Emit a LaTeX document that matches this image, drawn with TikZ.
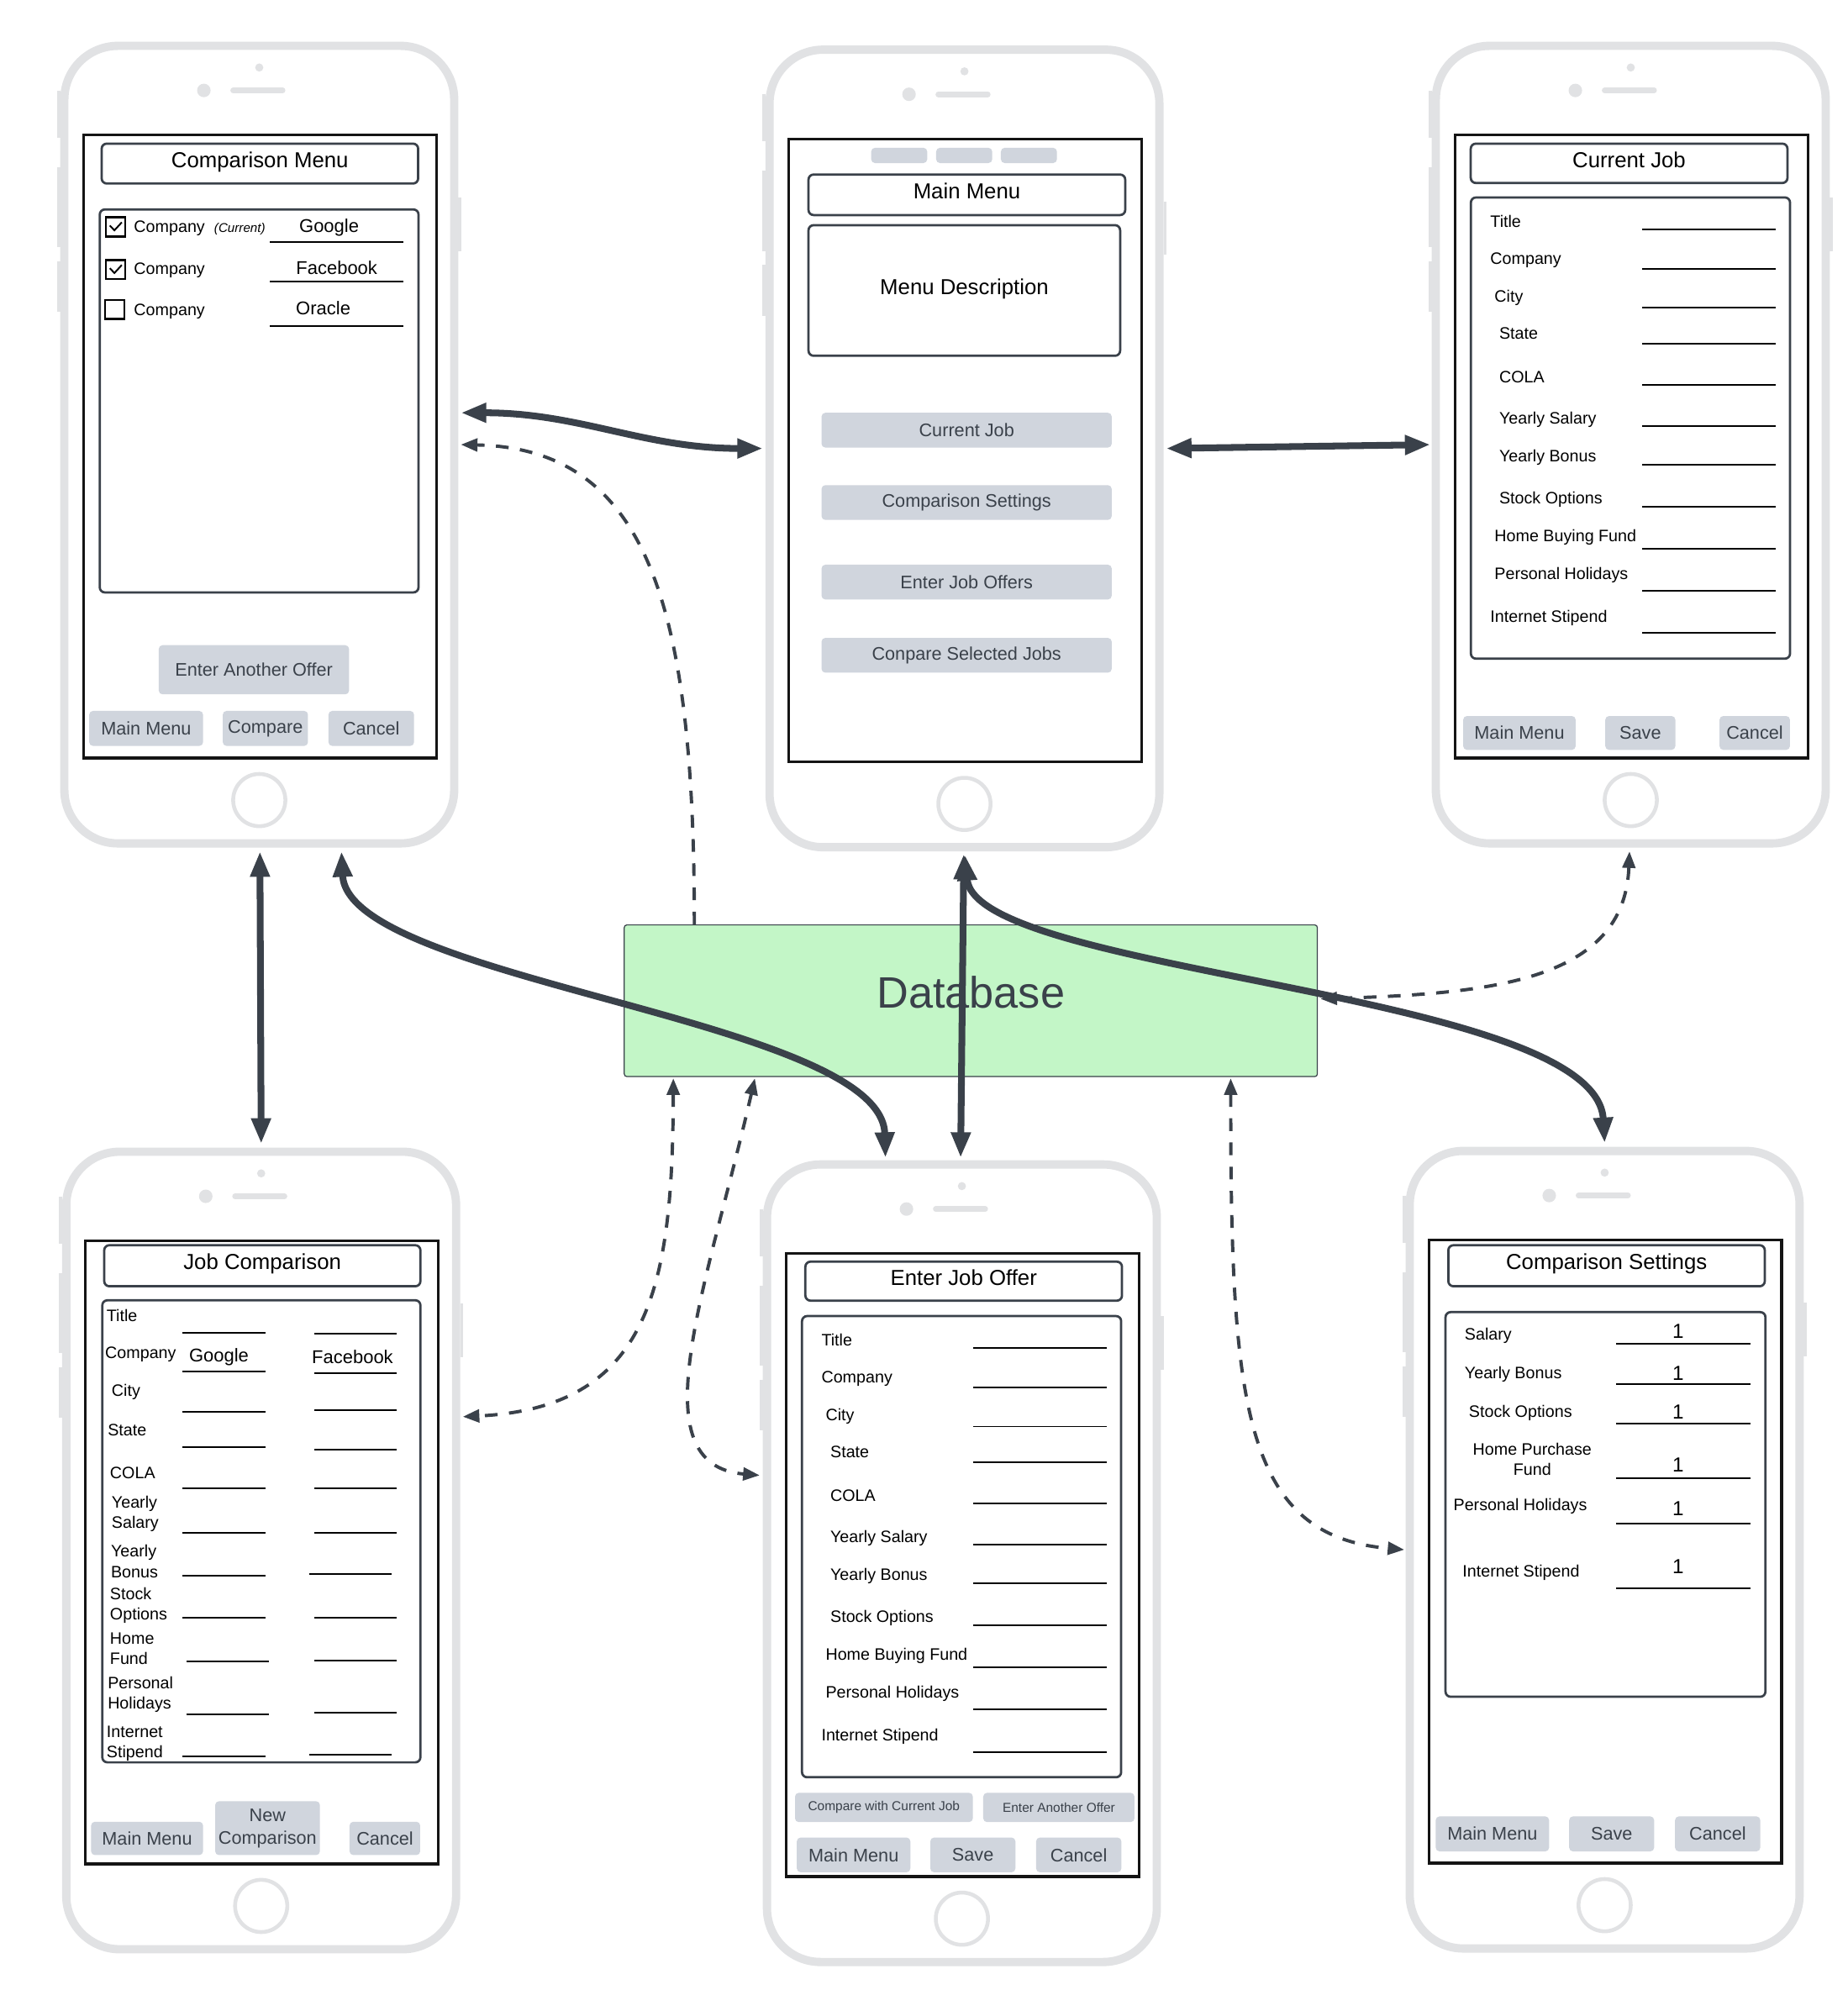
\documentclass[tikz,border=0pt]{standalone}
\usepackage{fontspec}
\setmainfont{Liberation Sans}
\usetikzlibrary{arrows.meta,calc}
\definecolor{framegray}{HTML}{E1E2E4}
\definecolor{btngray}{HTML}{D0D5DD}
\definecolor{slate}{HTML}{3A414A}
\definecolor{dbgreen}{HTML}{C3F6C7}
\tikzstyle{phone} = [rectangle, draw=framegray, line width=6.5pt, rounded corners=42pt, fill=white, minimum width=306pt, minimum height=626pt]
\tikzstyle{screen} = [draw=black!92, line width=2.2pt]
\tikzstyle{titlebox} = [rectangle, draw=slate, line width=1.8pt, rounded corners=4pt, inner sep=0pt, text height=12.2pt, text depth=6pt, font=\fontsize{17}{20}\selectfont]
\tikzstyle{panel} = [draw=slate, line width=1.8pt, rounded corners=4pt]
\tikzstyle{btn} = [rectangle, fill=btngray, rounded corners=3pt, inner sep=0pt, text=slate, align=center, font=\fontsize{14.3}{17.7}\selectfont]
\tikzstyle{smallbtn} = [btn, font=\fontsize{10.2}{12}\selectfont]
\tikzstyle{lbl} = [anchor=west, inner sep=0pt, align=left, font=\fontsize{13}{16}\selectfont]
\tikzstyle{val} = [inner sep=0pt, font=\fontsize{14.5}{17}\selectfont]
\tikzstyle{field} = [draw=black, line width=1.3pt]
\tikzstyle{chk} = [rectangle, draw=black, line width=1.7pt, minimum size=15pt, inner sep=0pt]
\tikzstyle{dbbox} = [rectangle, draw=slate, line width=0.8pt, fill=dbgreen, rounded corners=2pt, minimum width=544pt, minimum height=119pt, text=slate, text height=25.2pt, text depth=14pt, font=\fontsize{34.5}{40}\selectfont]
\tikzstyle{link} = [draw=slate, line width=5.3pt, >={Triangle[length=20pt,width=14.5pt]}, <->]
\tikzstyle{dlink} = [draw=slate, line width=2.6pt, dash pattern=on 10pt off 9pt, >={Triangle[length=13pt,width=10pt]}, <->]

% phone body: name, centre x, centre y
\newcommand{\phoneshell}[3]{%
  \begin{scope}[shift={(#2,#3)}]
    \foreach \a/\b in {-278/-241,-218/-155,-144/-104}
      \draw[framegray, line width=2.5pt] (-157.5,\a) -- (-157.5,\b);
    \draw[framegray, line width=2.5pt] (157.5,-194) -- (157.5,-152);
  \end{scope}
  \node[phone] (#1) at (#2,#3) {};
  \begin{scope}[shift={(#2,#3)}]
    \fill[framegray] (0,-296) circle (3.2pt);
    \fill[framegray] (-43.5,-278) circle (5.3pt);
    \draw[framegray, line width=4.4pt, line cap=round] (-20.5,-278) -- (18.3,-278);
    \draw[framegray, line width=3pt] (0,279) circle (20.5pt);
    \draw[screen] (-138,-243) rectangle (139,246);
  \end{scope}}

% job form rows: prefix, centre x, centre y
\newcommand{\jobform}[3]{%
  \begin{scope}[shift={(#2,#3)}]
    \draw[panel] (-125.5,-194) rectangle (125,168);
    \foreach \txt/\lx/\ly/\fy [count=\i] in {Title/-110.4/-175.5/-168.7, Company/-110.4/-145/-138, City/-107.1/-115/-107.3, State/-103.4/-87.4/-79, COLA/-103.4/-53/-47.2, Yearly Salary/-103.4/-19.4/-14.5, Yearly Bonus/-103.4/10/15.6, Stock Options/-103.4/43/48.7, Home Buying Fund/-107.1/73/81.8, Personal Holidays/-107.1/102.6/114.5, Internet Stipend/-110.4/136/148} {
      \node[lbl] (#1l\i) at (\lx,\ly) {\txt};
      \draw[field] (9,\fy) -- (114,\fy);
    }
  \end{scope}}

\begin{document}
\begin{tikzpicture}[x=1pt,y=-1pt]
\useasboundingbox (0,0) rectangle (1450,1562);

% the six screens
\phoneshell{cmpmenu}{203.5}{349}
\phoneshell{mainmenu}{757}{352}
\phoneshell{curjob}{1280}{349}
\phoneshell{jobcmp}{205}{1217}
\phoneshell{offer}{755}{1227}
\phoneshell{settings}{1259.5}{1216.4}

% comparison menu
\node[titlebox, minimum width=248.4pt, minimum height=31.3pt] (cmptitle) at (204,128.4) {Comparison Menu};
\draw[panel] (78.3,164.4) rectangle (328.5,465);
\node[chk] (box1) at (90.7,178) {};
\node[chk] (box2) at (90.7,211.5) {};
\node[chk] (box3) at (90,243) {};
\draw[line width=1.3pt] (86.2,177) -- (89.8,180.8) -- (95.6,174.5);
\draw[line width=1.3pt] (86.2,210.5) -- (89.8,214.3) -- (95.6,208);
\foreach \y [count=\i] in {179,212.5,244.5}
  \node[lbl] (cmpco\i) at (105,\y) {Company};
\node[lbl, font=\fontsize{10}{12}\selectfont\itshape] (curtag) at (168,180) {(Current)};
\foreach \v/\vx/\vy/\uy [count=\i] in {Google/258.3/178.5/190, Facebook/264.3/210/221, Oracle/253.7/242/256} {
  \node[val] (cmpv\i) at (\vx,\vy) {\v};
  \draw[field] (212,\uy) -- (316.8,\uy);
}
\node[btn, minimum width=149.4pt, minimum height=38.6pt] (anotheroffer) at (199.3,525.7) {Enter Another Offer};
\node[btn, minimum width=89.4pt, minimum height=27.5pt] (cmpmain) at (114.7,571.75) {Main Menu};
\node[btn, minimum width=66.9pt, minimum height=27.5pt] (cmpgo) at (208.3,571.75) {Compare};
\node[btn, minimum width=67.2pt, minimum height=27.5pt] (cmpcancel) at (291.4,571.75) {Cancel};

% main menu
\foreach \x [count=\i] in {705.8,756.8,807.6}
  \node[btn, minimum width=44pt, minimum height=12pt] (tab\i) at (\x,122) {};
\node[titlebox, minimum width=248.6pt, minimum height=31.8pt] (mmtitle) at (758.9,152.9) {Main Menu};
\node[titlebox, minimum width=244.6pt, minimum height=102.5pt] (mmdesc) at (756.9,228) {Menu Description};
\foreach \txt/\y [count=\i] in {Current Job/337.65, Comparison Settings/394.45, Enter Job Offers/456.9, Conpare Selected Jobs/514.35}
  \node[btn, minimum width=227.8pt, minimum height=27.3pt] (mmb\i) at (758.7,\y) {\txt};

% current job
\node[titlebox, minimum width=248.6pt, minimum height=30.9pt] (cjtitle) at (1278.7,128.2) {Current Job};
\jobform{cj}{1280}{349}
\node[btn, minimum width=88.3pt, minimum height=26.6pt] (cjmain) at (1192.6,575.3) {Main Menu};
\node[btn, minimum width=55pt, minimum height=26.6pt] (cjsave) at (1287.5,575.3) {Save};
\node[btn, minimum width=55.3pt, minimum height=26.6pt] (cjcancel) at (1377.3,575.3) {Cancel};

% job comparison
\node[titlebox, minimum width=248.2pt, minimum height=32.2pt] (jctitle) at (205.9,993.5) {Job Comparison};
\draw[panel] (80.3,1020.6) rectangle (330,1383.3);
\foreach \txt/\lx/\ly [count=\i] in {Title/83.5/1032.5, Company/82.4/1063.3, City/87.5/1092.9, State/84.4/1122.5, COLA/86.2/1156.3, Yearly\\Salary/87.5/1188.4, Yearly\\Bonus/86.9/1225.5, Stock\\Options/86.2/1260.1, Home\\Fund/86.2/1294, Personal\\Holidays/84.4/1330, Internet\\Stipend/83.5/1368.5}
  \node[lbl] (jcl\i) at (\lx,\ly) {\txt};
\foreach \ya/\xa/\xb/\yb in {1045.9/143.4/246.9/1046.9, 1076.4/143.4/246.9/1077.6, 1108.1/143.4/246.9/1106.7, 1136/143.4/246.9/1137.7, 1168.1/143.4/246.9/1168.1, 1203.2/143.4/246.9/1203.2, 1236.6/143.4/243/1235.6, 1269.6/143.4/246.9/1269.6, 1304.3/146.2/246.9/1303.2, 1345.7/146.2/246.9/1344.5, 1378.3/143.4/243/1377.3} {
  \draw[field] (\xa,\ya) -- ++(64.8,0);
  \draw[field] (\xb,\yb) -- ++(64.7,0);
}
\node[val] (jcgoogle) at (171.8,1065) {Google};
\node[val] (jcfacebook) at (276.7,1065) {Facebook};
\node[btn, minimum width=87.9pt, minimum height=26.2pt] (jcmain) at (115.45,1443) {Main Menu};
\node[btn, minimum width=82.2pt, minimum height=42.3pt] (jcnew) at (210,1434.95) {New\\Comparison};
\node[btn, minimum width=55.4pt, minimum height=26.2pt] (jccancel) at (302.1,1443) {Cancel};

% enter job offer
\node[titlebox, minimum width=248.5pt, minimum height=30.6pt] (ejtitle) at (756.4,1005.6) {Enter Job Offer};
\jobform{ej}{755}{1227}
\node[smallbtn, minimum width=139.6pt, minimum height=23pt] (ejcompare) at (693.8,1418.7) {Compare with Current Job};
\node[smallbtn, minimum width=118.7pt, minimum height=23pt] (ejanother) at (831.1,1418.7) {Enter Another Offer};
\node[btn, minimum width=89.1pt, minimum height=27.3pt] (ejmain) at (670,1455.95) {Main Menu};
\node[btn, minimum width=66.8pt, minimum height=27.3pt] (ejsave) at (763.6,1455.95) {Save};
\node[btn, minimum width=66.9pt, minimum height=27.3pt] (ejcancel) at (846.7,1455.95) {Cancel};

% comparison settings
\node[titlebox, minimum width=248.4pt, minimum height=32.2pt] (cstitle) at (1261,993.5) {Comparison Settings};
\draw[panel] (1134.6,1029.9) rectangle (1385.7,1331.8);
\foreach \txt/\lx/\ly [count=\i] in {Salary/1149.5/1048.1, Yearly Bonus/1149.5/1078.9, Stock Options/1152.8/1109.4, Personal Holidays/1140.7/1182.5, Internet Stipend/1147.8/1234.1}
  \node[lbl] (csl\i) at (\lx,\ly) {\txt};
\node[lbl, anchor=center, align=center] (cshome) at (1202.7,1145.3) {Home Purchase\\Fund};
\foreach \fy/\vy [count=\i] in {1054.8/1045.1, 1086.5/1078.1, 1117.4/1108.5, 1160.1/1150, 1196/1183.8, 1246.4/1229.9} {
  \draw[field] (1268.7,\fy) -- (1373.8,\fy);
  \node[val, font=\fontsize{16}{18}\selectfont] (csv\i) at (1317.1,\vy) {1};
}
\node[btn, minimum width=89pt, minimum height=27.5pt] (csmain) at (1171.4,1439.45) {Main Menu};
\node[btn, minimum width=66.7pt, minimum height=27.5pt] (cssave) at (1265,1439.45) {Save};
\node[btn, minimum width=66.9pt, minimum height=27.5pt] (cscancel) at (1348.2,1439.45) {Cancel};

% database
\node[dbbox] (db) at (762,785.5) {Database};

% solid links between screens
\draw[link] ($(cmpmenu.east)+(2,-25)$) to[out=0,in=180] ($(mainmenu.west)+(-2,0)$);
\draw[link] ($(mainmenu.east)+(2,0)$) -- ($(curjob.west)+(-1,0)$);
\draw[link] ($(cmpmenu.south)+(0.5,3)$) -- ($(jobcmp.north)+(0,-3)$);
\draw[link] ($(cmpmenu.south)+(64.5,3)$) .. controls +(5,102) and +(-3,-109) .. ($(offer.north)+(-60,-2)$);
\draw[link] ($(mainmenu.south)+(-0.5,2)$) -- ($(offer.north)+(-1,-2)$);
\draw[link] ($(mainmenu.south)+(0.5,3)$) .. controls +(8,94) and +(-7,-120) .. ($(settings.north)+(0,-3)$);

% dashed links to the database
\draw[dlink, ->] ($(db.north)+(-217,0)$) .. controls +(0,-246) and +(148.5,3) .. ($(cmpmenu.east)+(2,0)$);
\draw[dlink] ($(curjob.south)+(-1,3)$) .. controls +(-4,102) and +(134,-4) .. ($(db.east)+(2,-1.5)$);
\draw[dlink] ($(db.south)+(-233.5,1)$) .. controls +(-0.5,164) and +(147,-7) .. ($(jobcmp.east)+(2,-105)$);
\draw[dlink] ($(db.south)+(-169.5,1)$) .. controls +(-37.5,164) and +(-96.5,-8) .. ($(offer.west)+(-2.5,-69)$);
\draw[dlink] ($(db.south)+(204,1)$) .. controls +(0,254) and +(-127.5,-11) .. ($(settings.west)+(-1,0)$);
\end{tikzpicture}
\end{document}
